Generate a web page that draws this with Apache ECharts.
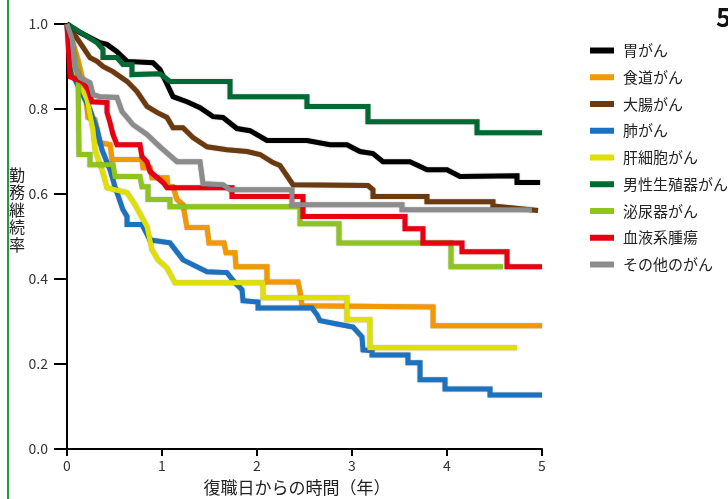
<!DOCTYPE html>
<html><head><meta charset="utf-8">
<script src="https://cdn.jsdelivr.net/npm/echarts@6/dist/echarts.min.js"></script>
<style>html,body{margin:0;padding:0;background:#fff}#c{width:728px;height:499px}</style>
</head><body><div id="c"></div>
<script>
const FONT = '"Noto Sans CJK JP", "Noto Sans", sans-serif';
const seriesNames = ['胃がん','食道がん','大腸がん','肺がん','肝細胞がん','男性生殖器がん','泌尿器がん','血液系腫瘍','その他のがん'];
const colors = ['#000000','#f39800','#6b3a0e','#1c72be','#e0e000','#006934','#8fc31f','#e60012','#8c8c8c'];
const xTicks = [0,1,2,3,4,5];
const yTicks = [0,0.2,0.4,0.6,0.8,1.0];

const stomach = [[0,1],[0.137,0.980],[0.347,0.956],[0.42,0.952],[0.526,0.935],[0.632,0.912],[0.905,0.909],[0.979,0.893],[1.116,0.829],[1.263,0.817],[1.4,0.803],[1.537,0.782],[1.642,0.780],[1.789,0.754],[1.926,0.749],[2.105,0.726],[2.526,0.726],[2.768,0.716],[2.947,0.716],[3.084,0.700],[3.221,0.695],[3.326,0.676],[3.61,0.676],[3.79,0.657],[4.0,0.657],[4.137,0.641],[4.737,0.643],[4.737,0.627],[4.98,0.627]];
const esophagus = [[0,1],[0.116,0.916],[0.19,0.846],[0.221,0.780],[0.295,0.775],[0.347,0.721],[0.453,0.716],[0.474,0.681],[0.789,0.681],[0.8,0.662],[0.874,0.662],[0.895,0.638],[1.053,0.638],[1.063,0.617],[1.116,0.617],[1.158,0.587],[1.221,0.575],[1.263,0.521],[1.474,0.521],[1.495,0.485],[1.653,0.485],[1.674,0.462],[1.768,0.462],[1.779,0.429],[2.105,0.429],[2.105,0.393],[2.432,0.393],[2.453,0.370],[2.474,0.337],[3.853,0.334],[3.853,0.290],[5.0,0.290]];
const colon = [[0,1],[0.137,0.956],[0.242,0.921],[0.316,0.912],[0.379,0.900],[0.484,0.888],[0.632,0.865],[0.737,0.841],[0.842,0.806],[0.947,0.792],[1.053,0.780],[1.116,0.756],[1.221,0.756],[1.326,0.733],[1.474,0.711],[1.684,0.704],[1.895,0.700],[2.032,0.693],[2.168,0.674],[2.242,0.667],[2.379,0.622],[3.168,0.620],[3.221,0.610],[3.221,0.594],[3.789,0.594],[3.789,0.582],[4.484,0.582],[4.484,0.572],[4.958,0.561]];
const lung = [[0,1],[0.084,0.869],[0.242,0.799],[0.316,0.751],[0.368,0.704],[0.453,0.657],[0.505,0.617],[0.589,0.563],[0.632,0.547],[0.632,0.528],[0.789,0.528],[0.874,0.492],[1.084,0.485],[1.221,0.445],[1.474,0.417],[1.684,0.415],[1.768,0.391],[1.842,0.375],[1.853,0.349],[2.011,0.346],[2.011,0.332],[2.579,0.332],[2.632,0.316],[2.663,0.302],[2.842,0.294],[3.011,0.287],[3.105,0.264],[3.116,0.233],[3.211,0.231],[3.211,0.221],[3.589,0.221],[3.589,0.203],[3.716,0.203],[3.716,0.163],[3.979,0.163],[3.979,0.141],[4.453,0.141],[4.453,0.127],[5.0,0.127]];
const liver = [[0,1],[0.063,0.916],[0.116,0.869],[0.211,0.822],[0.274,0.751],[0.295,0.704],[0.379,0.650],[0.421,0.615],[0.505,0.610],[0.632,0.603],[0.716,0.575],[0.842,0.523],[0.895,0.469],[0.958,0.445],[1.053,0.426],[1.137,0.391],[2.063,0.391],[2.063,0.356],[2.947,0.356],[2.947,0.304],[3.189,0.304],[3.189,0.238],[4.737,0.238]];
const maleGenital = [[0,1],[0.316,0.956],[0.379,0.940],[0.379,0.921],[0.526,0.921],[0.589,0.905],[0.684,0.905],[0.684,0.881],[0.979,0.883],[1.084,0.865],[1.716,0.865],[1.716,0.829],[2.526,0.829],[2.526,0.806],[3.168,0.806],[3.168,0.770],[4.316,0.770],[4.316,0.744],[5.0,0.744]];
const urinary = [[0,1],[0.116,0.893],[0.126,0.693],[0.242,0.693],[0.242,0.669],[0.484,0.669],[0.505,0.641],[0.768,0.641],[0.789,0.617],[0.853,0.617],[0.853,0.587],[1.084,0.587],[1.084,0.570],[2.453,0.570],[2.453,0.530],[2.863,0.530],[2.863,0.485],[4.042,0.485],[4.042,0.429],[4.589,0.429]];
const blood = [[0,1],[0.032,0.876],[0.158,0.865],[0.221,0.846],[0.263,0.817],[0.421,0.815],[0.421,0.792],[0.453,0.768],[0.484,0.740],[0.526,0.716],[0.768,0.716],[0.789,0.688],[0.842,0.676],[0.874,0.653],[1.011,0.627],[1.053,0.615],[1.737,0.615],[1.737,0.594],[2.484,0.594],[2.484,0.547],[3.558,0.547],[3.558,0.518],[3.747,0.518],[3.747,0.485],[4.158,0.485],[4.158,0.464],[4.632,0.464],[4.632,0.429],[5.0,0.429]];
const other = [[0,1],[0.053,0.965],[0.084,0.900],[0.137,0.874],[0.242,0.862],[0.274,0.834],[0.347,0.829],[0.526,0.827],[0.579,0.794],[0.632,0.780],[0.695,0.763],[0.842,0.740],[0.979,0.711],[1.158,0.676],[1.4,0.676],[1.432,0.624],[1.642,0.622],[1.716,0.610],[2.368,0.610],[2.368,0.575],[3.526,0.575],[3.526,0.563],[4.895,0.563]];

const allData = [stomach, esophagus, colon, lung, liver, maleGenital, urinary, blood, other];

const chart = echarts.init(document.getElementById('c'), null, {renderer:'canvas'});
chart.setOption({
  animation: false,
  backgroundColor: '#fff',
  textStyle: {fontFamily: FONT},
  grid: {left: 67, right: 186, top: 24, bottom: 50},
  xAxis: {
    type: 'value', min: xTicks[0], max: xTicks[xTicks.length-1], interval: 1,
    axisLine: {onZero:false, lineStyle: {color:'#000', width:2}},
    axisTick: {length: 7, lineStyle: {color:'#000', width:2}},
    axisLabel: {color:'#333', fontSize:14, margin:10, fontFamily: FONT},
    splitLine: {show:false}
  },
  yAxis: {
    type: 'value', min: yTicks[0], max: yTicks[yTicks.length-1], interval: 0.2,
    axisLine: {show:true, onZero:false, lineStyle: {color:'#000', width:2}},
    axisTick: {show:true, length: 13, lineStyle: {color:'#000', width:2}},
    axisLabel: {color:'#333', fontSize:14, margin:19, fontFamily: FONT, formatter: v => v.toFixed(1)},
    splitLine: {show:false}
  },
  legend: {
    orient: 'vertical', left: 585, top: 38,
    itemWidth: 24, itemHeight: 6, itemGap: 11.75, icon: 'rect',
    textStyle: {fontSize: 15, color: '#222', fontFamily: FONT, lineHeight: 14, padding:[0,0,0,4]},
    data: seriesNames
  },
  series: seriesNames.map((n, i) => ({
    name: n, type: 'line', data: allData[i], symbol: 'none', showSymbol:false,
    color: colors[i],
    lineStyle: {width: 5, color: colors[i], shadowColor:'rgba(0,0,0,0.35)', shadowBlur:1.5, join:'miter'},
    clip: false
  })),
  graphic: [
    {type:'line', shape:{x1:8,y1:0,x2:8,y2:499}, style:{stroke:'#1d9a3c', lineWidth:2}},
    {type:'text', left: 9, top: 166, style:{text:'勤\n務\n継\n続\n率', font:'16px '+FONT, fill:'#222', lineHeight:17.5}},
    {type:'text', x: 297, y: 488, style:{text:'復職日からの時間（年）', font:'17px '+FONT, fill:'#222', align:'center', verticalAlign:'middle'}},
    {type:'text', x: 716, y: 4, style:{text:'5', font:'bold 26px '+FONT, fill:'#111'}}
  ]
});
</script></body></html>
